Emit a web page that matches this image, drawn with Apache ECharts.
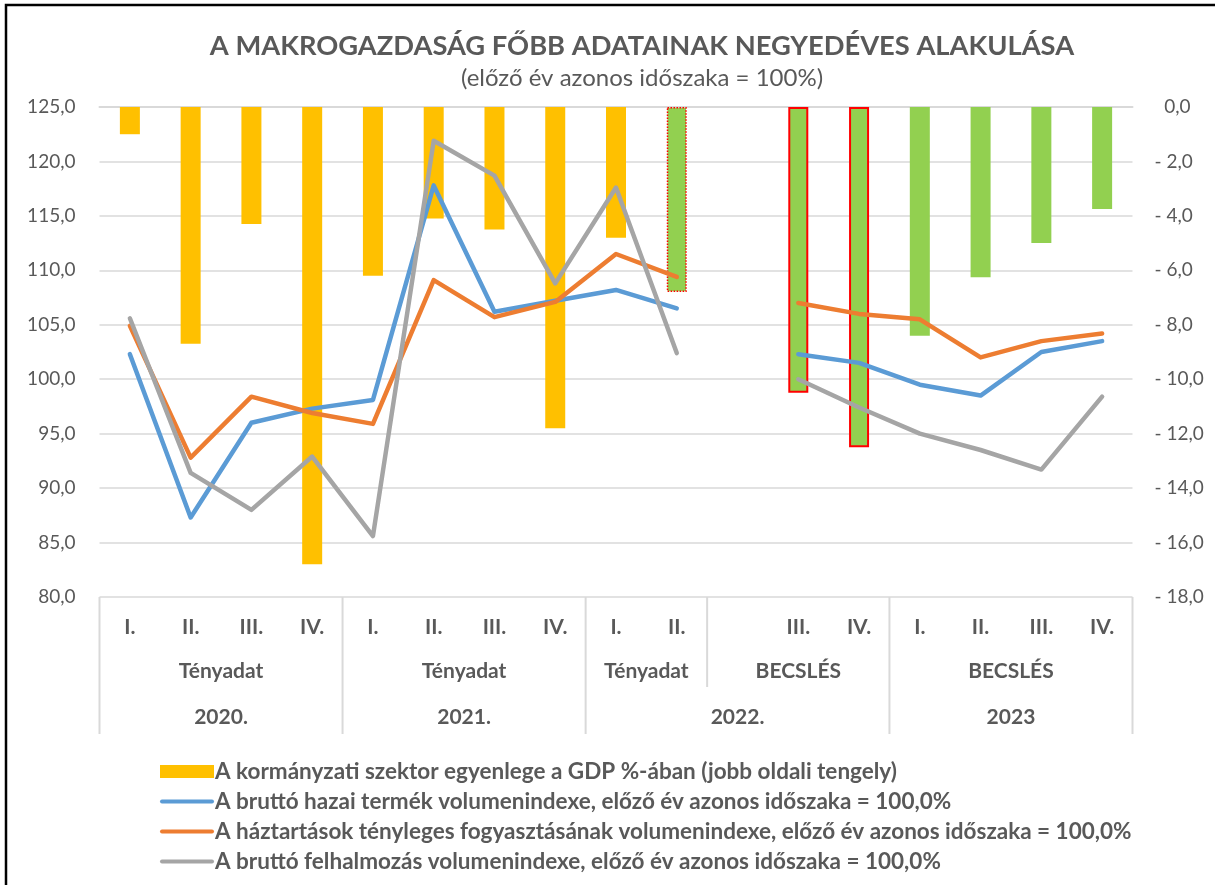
<!DOCTYPE html>
<html>
<head>
<meta charset="utf-8">
<script src="https://cdn.jsdelivr.net/npm/echarts@6/dist/echarts.min.js"></script>
<style>
  html, body { margin: 0; padding: 0; background: #ffffff; }
  #chart { width: 1215px; height: 885px; }
</style>
</head>
<body>
<div id="chart"></div>
<script>
// ---- data ----
var quarters = ['I.', 'II.', 'III.', 'IV.', 'I.', 'II.', 'III.', 'IV.', 'I.', 'II.', '', 'III.', 'IV.', 'I.', 'II.', 'III.', 'IV.'];
var statusLabels = ['Tényadat', 'Tényadat', 'Tényadat', 'BECSLÉS', 'BECSLÉS'];
var statusSpans = [[0, 3], [4, 7], [8, 9], [10, 12], [13, 16]];
var yearLabels = ['2020.', '2021.', '2022.', '2023'];
var yearSpans = [[0, 3], [4, 7], [8, 12], [13, 16]];

var balance = [-1.0, -8.7, -4.3, -16.8, -6.2, -4.1, -4.5, -11.8, -4.8, -6.8, null, -10.5, -12.5, -8.4, -6.25, -5.0, -3.75];
var gdp = [102.3, 87.3, 96.0, 97.3, 98.1, 117.8, 106.2, 107.2, 108.2, 106.5, null, 102.3, 101.5, 99.5, 98.5, 102.5, 103.5];
var consumption = [104.9, 92.8, 98.4, 96.9, 95.9, 109.1, 105.7, 107.1, 111.5, 109.4, null, 107.0, 106.0, 105.5, 102.0, 103.5, 104.2];
var investment = [105.6, 91.4, 88.0, 92.9, 85.6, 121.9, 118.7, 108.8, 117.6, 102.4, null, 100.0, 97.4, 95.0, 93.5, 91.7, 98.4];

var seriesNames = [
  'A kormányzati szektor egyenlege a GDP %-ában (jobb oldali tengely)',
  'A bruttó hazai termék volumenindexe, előző év azonos időszaka = 100,0%',
  'A háztartások tényleges fogyasztásának volumenindexe, előző év azonos időszaka = 100,0%',
  'A bruttó felhalmozás volumenindexe, előző év azonos időszaka = 100,0%'
];

// ---- styling ----
var FONT = 'Lato, "Open Sans", sans-serif';
var TXT = '#595959';
var forecastStart = 9;      // first green bar
var dottedIdx = 9;          // dotted red border
var solidBorder = [11, 12]; // solid red border

var barData = balance.map(function (v, i) {
  if (v === null) return null;
  if (i < forecastStart) return v;
  var st = { color: '#92D050' };
  if (i === dottedIdx) { st.borderColor = '#FF0000'; st.borderWidth = 1.5; st.borderType = 'dotted'; }
  else if (solidBorder.indexOf(i) >= 0) { st.borderColor = '#FF0000'; st.borderWidth = 2; }
  return { value: v, itemStyle: st };
});

var chart = echarts.init(document.getElementById('chart'), null, { renderer: 'canvas' });

function lineSeries(name, data, color) {
  return {
    name: name, type: 'line', yAxisIndex: 0, data: data,
    symbol: 'none', connectNulls: false, smooth: false,
    lineStyle: { color: color, width: 4.5, cap: 'round', join: 'round' },
    itemStyle: { color: color },
    z: 3
  };
}

// legend icon: thin rounded line inside a 54x13 box
var lineIcon = 'path://M0,0 M54,13 M2,4.5 L52,4.5 A2,2 0 0 1 52,8.5 L2,8.5 A2,2 0 0 1 2,4.5 Z';

chart.setOption({
  backgroundColor: '#ffffff',
  animation: false,
  title: {
    text: 'A MAKROGAZDASÁG FŐBB ADATAINAK NEGYEDÉVES ALAKULÁSA',
    subtext: '(előző év azonos időszaka = 100%)',
    left: 637,
    textAlign: 'center',
    top: 28,
    itemGap: 6,
    textStyle: { fontFamily: FONT, fontSize: 27.3, fontWeight: 'bold', color: TXT },
    subtextStyle: { fontFamily: FONT, fontSize: 24, color: TXT }
  },
  grid: { left: 99.5, right: 82.5, top: 107, bottom: 288, containLabel: false },
  legend: {
    orient: 'vertical',
    left: 155, top: 755, height: 130,
    itemWidth: 54, itemHeight: 13, itemGap: 7,
    textStyle: { fontFamily: FONT, fontSize: 22.5, lineHeight: 22, fontWeight: 'bold', color: TXT, padding: [0, 0, 0, -4] },
    data: [
      { name: seriesNames[0], icon: 'rect' },
      { name: seriesNames[1], icon: lineIcon },
      { name: seriesNames[2], icon: lineIcon },
      { name: seriesNames[3], icon: lineIcon }
    ]
  },
  xAxis: {
    type: 'category',
    data: quarters,
    boundaryGap: true,
    axisLine: { lineStyle: { color: '#D9D9D9', width: 2 } },
    axisTick: { show: false },
    axisLabel: { interval: 0, margin: 20, fontFamily: FONT, fontSize: 21, fontWeight: 'bold', color: TXT }
  },
  yAxis: [
    {
      type: 'value', min: 80, max: 125, interval: 5, position: 'left',
      axisLine: { show: false }, axisTick: { show: false },
      splitLine: { lineStyle: { color: '#D9D9D9', width: 1.5 } },
      axisLabel: {
        margin: 24, fontFamily: FONT, fontSize: 19, color: TXT,
        formatter: function (v) { return v.toFixed(1).replace('.', ','); }
      }
    },
    {
      type: 'value', min: -18, max: 0, interval: 2, position: 'right',
      axisLine: { show: false }, axisTick: { show: false },
      splitLine: { show: false },
      axisLabel: {
        margin: 22, align: 'left', fontFamily: FONT, fontSize: 19, color: TXT,
        formatter: function (v) { return v === 0 ? '  0,0' : '- ' + Math.abs(v).toFixed(1).replace('.', ','); }
      }
    }
  ],
  series: [
    {
      name: seriesNames[0], type: 'bar', yAxisIndex: 1, data: barData,
      barWidth: 20, itemStyle: { color: '#FFC000' }, z: 2
    },
    lineSeries(seriesNames[1], gdp, '#5B9BD5'),
    lineSeries(seriesNames[2], consumption, '#ED7D31'),
    lineSeries(seriesNames[3], investment, '#A5A5A5')
  ]
});

// ---- multi-level category labels via the axis scale ----
function px(i) { return chart.convertToPixel({ xAxisIndex: 0 }, i); }
var step = px(1) - px(0);
var axisY = chart.convertToPixel({ yAxisIndex: 0 }, 80);
var tableBottom = axisY + 137;
var graphics = [];

function vline(x, y1, y2) {
  graphics.push({
    type: 'line', silent: true,
    shape: { x1: x, y1: y1, x2: x, y2: y2 },
    style: { stroke: '#D9D9D9', lineWidth: 2 }
  });
}
function label(text, x, y) {
  graphics.push({
    type: 'text', silent: true, x: x, y: y,
    style: { text: text, font: 'bold 21px ' + FONT, fill: TXT, textAlign: 'center', textVerticalAlign: 'middle' }
  });
}

// year boundaries (full height)
vline(px(0) - step / 2, axisY, tableBottom);
yearSpans.forEach(function (s) { vline(px(s[1]) + step / 2, axisY, tableBottom); });
// status boundaries inside a year (shorter)
statusSpans.forEach(function (s, k) {
  var right = px(s[1]) + step / 2;
  var isYearEnd = yearSpans.some(function (ys) { return ys[1] === s[1]; });
  if (!isYearEnd) vline(right, axisY, axisY + 90);
  label(statusLabels[k], (px(s[0]) + px(s[1])) / 2, axisY + 74);
});
yearSpans.forEach(function (s, k) {
  label(yearLabels[k], (px(s[0]) + px(s[1])) / 2, axisY + 120);
});
// outer chart frame
graphics.push({
  type: 'rect', silent: true,
  shape: { x: 6, y: 5, width: 1400, height: 1000 },
  style: { fill: 'none', stroke: '#000000', lineWidth: 2.5 }
});

chart.setOption({ graphic: graphics });
</script>
</body>
</html>
